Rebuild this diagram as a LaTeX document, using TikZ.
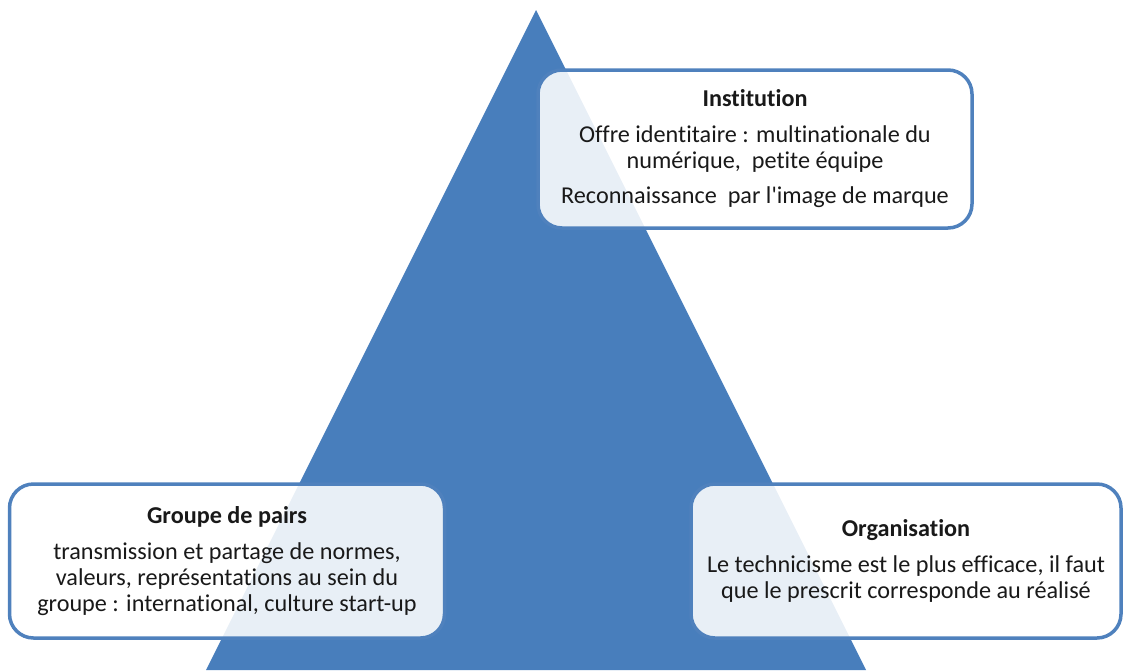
\documentclass[tikz,border=0pt]{standalone}
\usepackage{fontspec}
\setmainfont{Carlito}[Ligatures=NoCommon]
\usepackage{tikz}

\definecolor{pyrblue}{RGB}{72,126,188}
\definecolor{boxblue}{RGB}{79,129,189}
\tikzset{
  pole/.style={draw=boxblue, line width=3.5pt, rounded corners=24pt,
    fill=white, fill opacity=0.88, text opacity=1, text=black!90,
    align=center, inner sep=0pt,
    font=\fontsize{24.2}{26}\selectfont},
}

\begin{document}
\begin{tikzpicture}[x=1pt,y=-1pt]
\useasboundingbox (0,0) rectangle (1124,670);
% pyramid
\fill[pyrblue] (206,670) -- (536,10) -- (866,670) -- cycle;
% the three poles
\node[pole, minimum width=434pt, minimum height=158pt] (institution) at (755,149)
  {\textbf{Institution}\\[10pt]
   Offre identitaire : multinationale du\\
   numérique,~ petite équipe\\[9pt]
   Reconnaissance~ par l\textquotesingle image de marque};
\node[pole, minimum width=435pt, minimum height=154pt] (pairs) at (227,561)
  {\textbf{Groupe de pairs}\\[10pt]
   transmission et partage de normes,\\
   valeurs, représentations au sein du\\
   groupe : international, culture start-up};
\node[pole, minimum width=430pt, minimum height=154pt] (organisation) at (906,561)
  {\textbf{Organisation}\\[10pt]
   Le technicisme est le plus efficace, il faut\\
   que le prescrit corresponde au réalisé};
\end{tikzpicture}
\end{document}
